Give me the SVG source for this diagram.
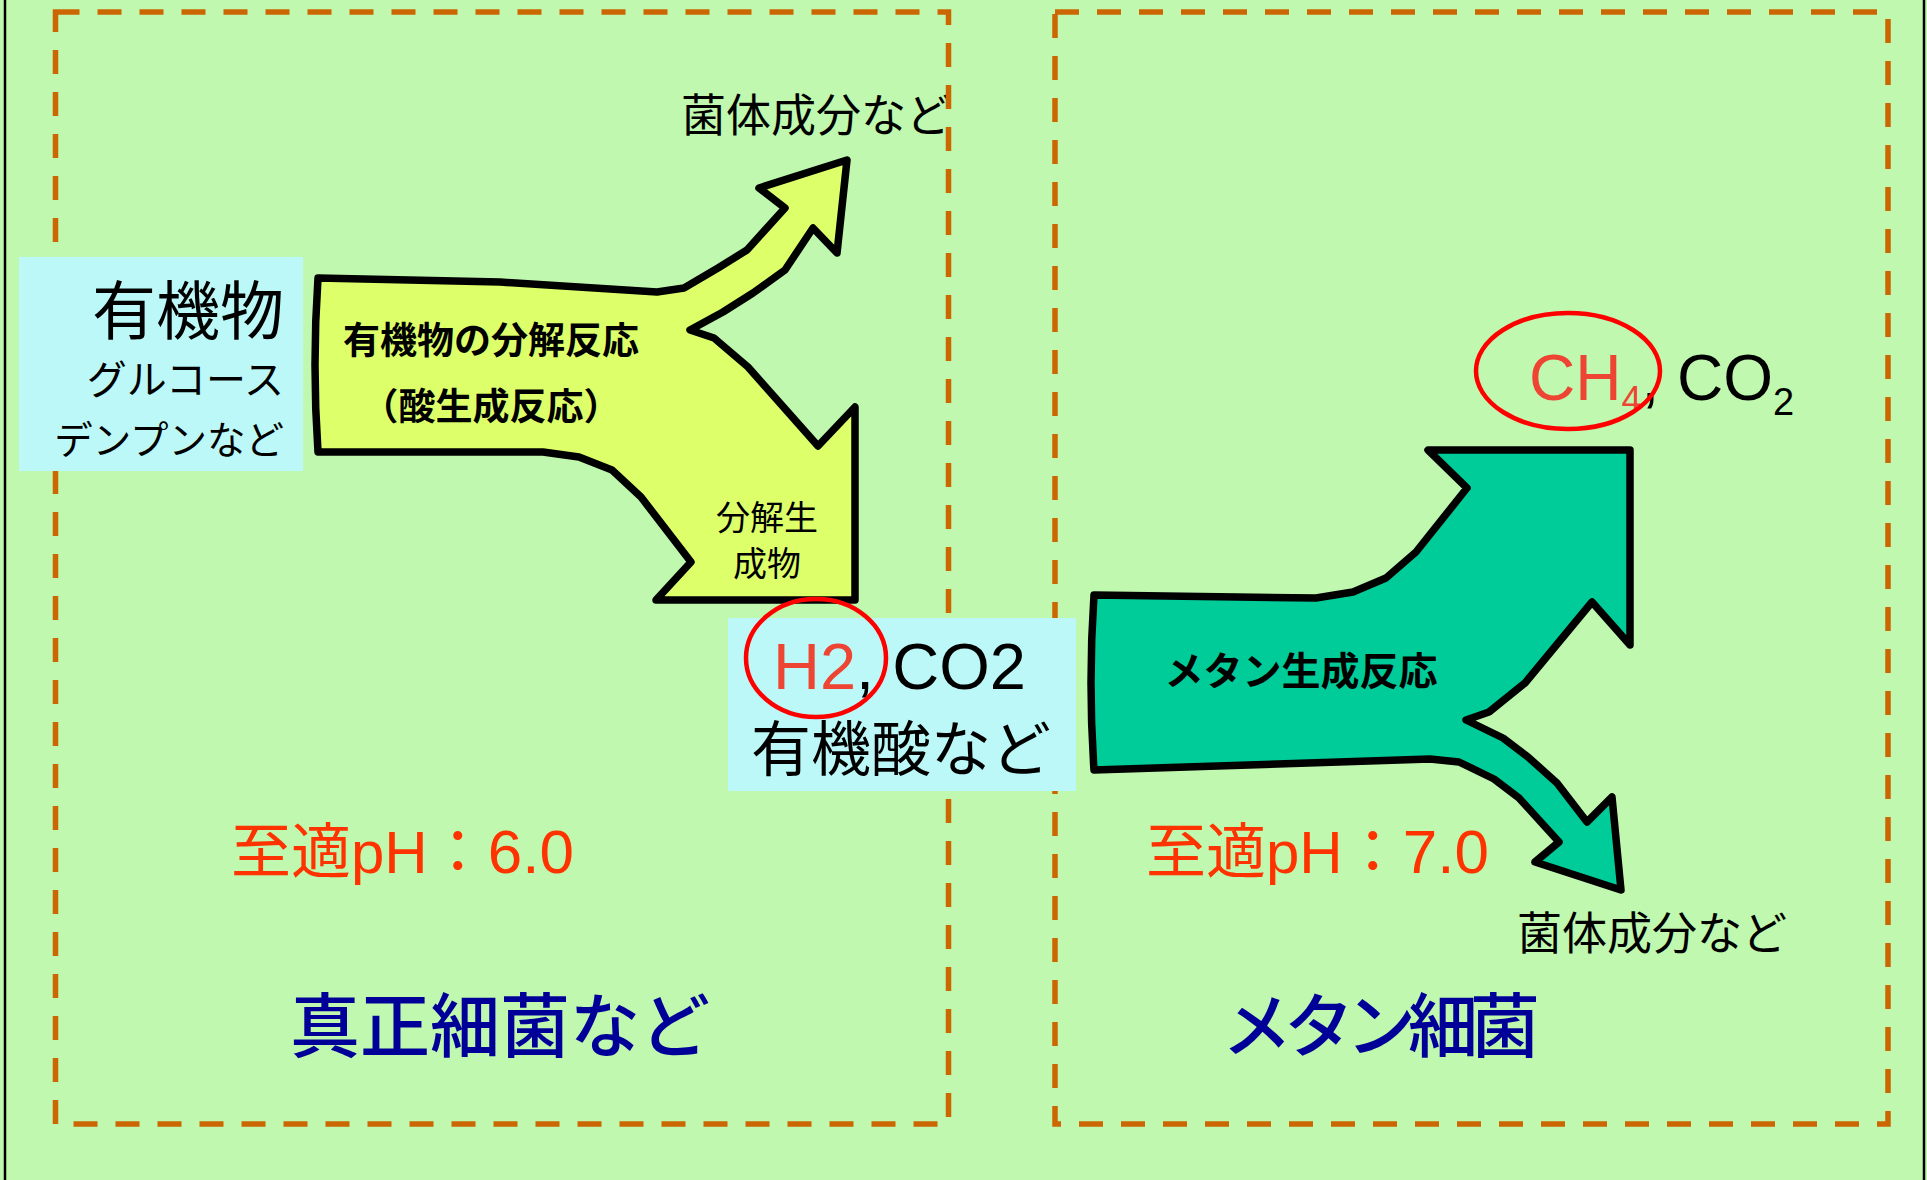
<svg xmlns="http://www.w3.org/2000/svg" width="1927" height="1180" viewBox="0 0 1927 1180">
<style>
.jp{font-family:"Noto Sans CJK JP","Liberation Sans",sans-serif;fill:#000}
.lat{font-family:"Liberation Sans","Noto Sans CJK JP",sans-serif}
.b{font-weight:bold}
.frame{fill:none;stroke:#CC6600;stroke-width:5.5;stroke-dasharray:24 18}
.box{fill:#BBF8F7}
.arrow{stroke:#000;stroke-width:7.5;stroke-linejoin:round}
.ring{fill:none;stroke:#FF0000;stroke-width:4.5}
.ph{fill:#FF3300;font-size:60px}
.title{fill:#000099;font-size:70px;font-weight:500}
</style>
<rect x="0" y="0" width="1927" height="1180" fill="#BFF8AE"/>
<line x1="5" y1="0" x2="5" y2="1180" stroke="#000" stroke-width="2.5"/>
<line x1="1924" y1="0" x2="1924" y2="1180" stroke="#000" stroke-width="2.5"/>

<g id="label-top-products">
<text class="jp" x="681" y="132" font-size="45">菌体成分など</text>
</g>

<g id="frame-eubacteria">
<rect class="frame" x="55.5" y="12" width="893" height="1112"/>
</g>
<g id="frame-methanogens">
<rect class="frame" x="1055" y="12" width="833" height="1112"/>
</g>

<g id="node-organic">
<rect class="box" x="19" y="257" width="284" height="214"/>
<text class="jp" x="284" y="334" font-size="64" text-anchor="end">有機物</text>
<text class="jp" x="284" y="394" font-size="40" text-anchor="end">グルコース</text>
<text class="jp" x="284" y="454" font-size="38.5" text-anchor="end">デンプンなど</text>
</g>

<g id="connectors">
<g id="arrow-acidogenesis">
<path class="arrow" fill="#DCFF6A" d="M318,278 L500,282 L657,292 L684,288 L718,268 L747,250 L785,208 L759,188 L847,160 L837,253 L813,228 L785,270 L753,293 L723,312 L690,330 L714,338 L748,367 L818,446 L855,407 L855,600 L656,600 L691,562 L641,497 L612,470 L579,457 L543,452 L318,452 Q312,365 318,278 Z"/>
<text class="jp b" x="491" y="354" font-size="37" text-anchor="middle">有機物の分解反応</text>
<text class="jp b" x="491" y="420" font-size="37" text-anchor="middle">（酸生成反応）</text>
<text class="jp" x="767" y="530" font-size="34" text-anchor="middle">分解生</text>
<text class="jp" x="767" y="576" font-size="34" text-anchor="middle">成物</text>
</g>
<g id="arrow-methanogenesis">
<path class="arrow" fill="#00CC99" d="M1094,595 L1316,598 L1353,592 L1386,578 L1416,552 L1467,488 L1428,450 L1630,450 L1630,645 L1592,602 L1525,683 L1489,712 L1466,720 L1503,738 L1528,757 L1557,783 L1587,822 L1612,797 L1621,890 L1535,862 L1559,842 L1519,798 L1494,779 L1459,762 L1430,759 L1094,770 Q1088,683 1094,595 Z"/>
<text class="jp b" x="1301" y="685" font-size="39" text-anchor="middle">メタン生成反応</text>
</g>
</g>

<g id="node-intermediates">
<rect class="box" x="728" y="618" width="348" height="173"/>
<text class="lat" x="773" y="689" font-size="65"><tspan fill="#EE4433">H2</tspan><tspan fill="#000">, CO2</tspan></text>
<text class="jp" x="901" y="771" font-size="60" text-anchor="middle">有機酸など</text>
<ellipse class="ring" cx="816" cy="658" rx="70" ry="59"/>
</g>

<g id="node-methane">
<text class="lat" x="1529" y="400" font-size="64"><tspan fill="#EE4433">CH</tspan><tspan fill="#EE4433" font-size="36" dy="12">4</tspan><tspan fill="#000" dy="-12">, CO</tspan><tspan fill="#000" font-size="38" dy="15">2</tspan></text>
<ellipse class="ring" cx="1568" cy="371" rx="92" ry="58"/>
</g>

<g id="label-bottom-products">
<text class="jp" x="1517" y="950" font-size="45">菌体成分など</text>
</g>

<g id="ph-left">
<text class="jp ph" x="231" y="873">至適<tspan class="lat">pH</tspan>：<tspan class="lat" font-size="62">6.0</tspan></text>
</g>
<g id="ph-right">
<text class="jp ph" x="1146" y="873">至適<tspan class="lat">pH</tspan>：<tspan class="lat" font-size="62">7.0</tspan></text>
</g>

<g id="title-eubacteria">
<text class="jp title" x="500" y="1052" text-anchor="middle">真正細菌など</text>
</g>
<g id="title-methanogens">
<text class="jp title" x="1222" y="1052" textLength="318" lengthAdjust="spacing">メタン細菌</text>
</g>
</svg>
